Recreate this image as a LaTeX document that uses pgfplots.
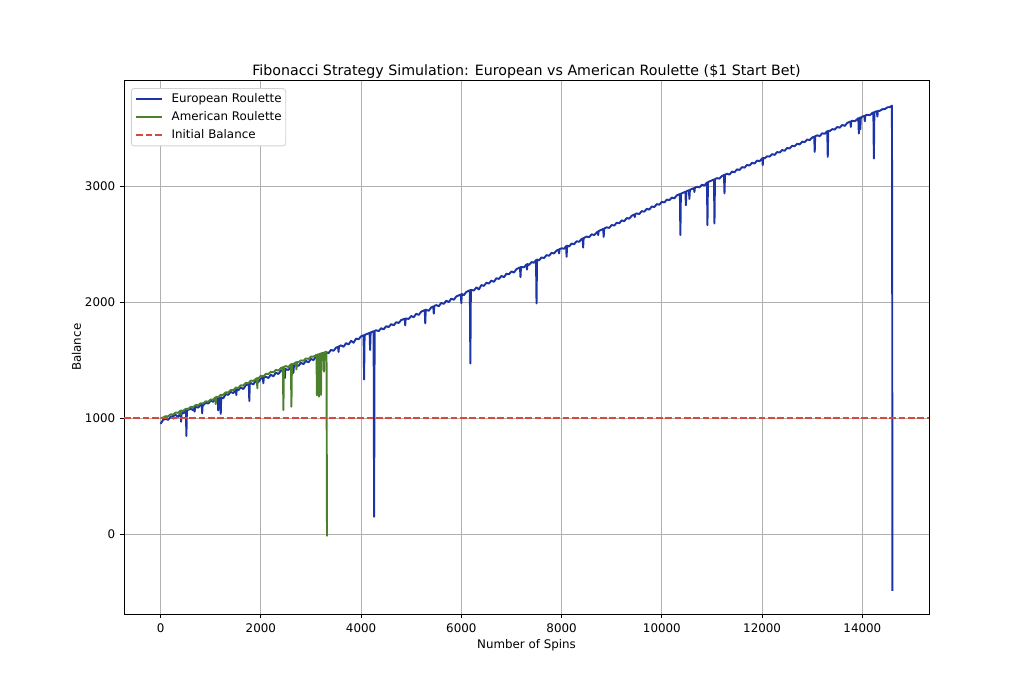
\documentclass[border=0pt]{standalone}
\usepackage{pgfplots}
\pgfplotsset{compat=1.18}
\usepackage{fontspec}
\setmainfont{DejaVu Sans}

\definecolor{euroblue}{RGB}{28,52,165}
\definecolor{amgreen}{RGB}{75,128,45}
\definecolor{initred}{RGB}{214,72,64}
\definecolor{gridgray}{RGB}{176,176,176}

\begin{document}
\begin{tikzpicture}
\path[use as bounding box] (-93bp,-57bp) rectangle (675bp,460.5bp);
\begin{axis}[
  at={(0,0)}, anchor=south west,
  scale only axis,
  width=603.75bp, height=400bp,
  xmin=-730, xmax=15330,
  ymin=-690, ymax=3910,
  xtick={0,2000,4000,6000,8000,10000,12000,14000},
  ytick={0,1000,2000,3000},
  scaled ticks=false,
  /pgf/number format/.cd, assume math mode=true, set thousands separator={}, fixed,
  /pgfplots/.cd,
  tick align=outside,
  xtick pos=bottom, ytick pos=left,
  major tick length=3.1bp,
  every tick/.style={black, line width=0.6bp},
  axis line style={line width=0.6bp},
  grid=major,
  major grid style={gridgray, line width=0.6bp},
  tick label style={font=\fontsize{8.9bp}{10bp}\selectfont},
  xticklabel style={yshift=-0.5bp},
  title={Fibonacci Strategy Simulation: European vs American Roulette (\$1 Start Bet)},
  every axis title/.style={at={(axis description cs:0.5,1)}, anchor=base, yshift=4.1bp, font=\fontsize{10.66bp}{12bp}\selectfont},
  xlabel={Number of Spins},
  every axis x label/.style={at={(axis description cs:0.5,0)}, anchor=base, yshift=-26.25bp, font=\fontsize{8.9bp}{10bp}\selectfont},
  ylabel={Balance},
  every axis y label/.style={at={(axis description cs:0,0.5)}, anchor=base, rotate=90, yshift=32.25bp, font=\fontsize{8.9bp}{10bp}\selectfont},
  legend cell align=left,
  legend image code/.code={\draw[#1] (0bp,0bp) -- (19bp,0bp);},
  legend style={
    at={(axis description cs:0,1)}, anchor=north west,
    xshift=5.25bp, yshift=-5.6bp,
    draw=black!18, fill=white, rounded corners=2bp,
    line width=0.6bp,
    font=\fontsize{8.9bp}{10bp}\selectfont,
    inner xsep=3bp, inner ysep=3.8bp,
    row sep=5.1bp,
    nodes={inner sep=0pt, text height=6.5bp, text depth=1.9bp},
    /tikz/every odd column/.append style={column sep=6.75bp},
  },
]

% European roulette balance
\addplot[euroblue, line width=1.45bp, line join=round] coordinates {
(0,950) (50,984) (100,993) (150,985) (200,1010) (240,1017) (250,995) (260,1020)
(300,1027) (350,1010) (400,1045) (410,968) (420,1048) (450,1040) (505,1063) (515,845)
(525,1067) (550,1071) (600,1080) (650,1068) (670,1092) (680,1055) (690,1096) (700,1097)
(750,1090) (800,1115) (820,1118) (830,1040) (840,1122) (850,1110) (900,1132) (950,1125)
(1000,1150) (1050,1140) (1100,1169) (1140,1167) (1150,1065) (1160,1171) (1190,1176) (1200,1035)
(1210,1180) (1250,1170) (1300,1207) (1350,1200) (1400,1226) (1450,1215) (1505,1246) (1510,1198)
(1520,1249) (1550,1240) (1600,1264) (1650,1250) (1700,1283) (1760,1294) (1770,1147) (1780,1298)
(1800,1302) (1850,1290) (1900,1321) (1950,1310) (2000,1340) (2040,1347) (2050,1300) (2060,1350)
(2100,1357) (2150,1345) (2200,1374) (2250,1360) (2300,1391) (2350,1380) (2400,1408) (2470,1420)
(2480,1345) (2490,1423) (2550,1415) (2600,1442) (2640,1449) (2650,1390) (2660,1452) (2700,1459)
(2750,1450) (2800,1476) (2850,1465) (2900,1493) (2950,1480) (3000,1510) (3050,1500) (3100,1530)
(3150,1525) (3200,1549) (3250,1535) (3300,1568) (3350,1560) (3400,1588) (3450,1580) (3500,1607)
(3540,1615) (3550,1570) (3560,1619) (3600,1627) (3650,1615) (3700,1646) (3750,1635) (3800,1666)
(3850,1650) (3900,1685) (3950,1680) (4000,1705) (4050,1714) (4060,1333) (4070,1717) (4100,1722)
(4170,1735) (4180,1586) (4190,1738) (4250,1749) (4260,149) (4270,1752) (4300,1757) (4350,1750)
(4400,1775) (4450,1765) (4500,1792) (4550,1785) (4600,1810) (4650,1800) (4700,1827) (4750,1820)
(4800,1845) (4870,1857) (4880,1800) (4890,1859) (4950,1855) (5000,1880) (5050,1870) (5100,1899)
(5150,1890) (5200,1918) (5270,1931) (5280,1816) (5290,1935) (5350,1925) (5400,1955) (5440,1963)
(5450,1900) (5460,1967) (5500,1974) (5550,1965) (5600,1993) (5650,1985) (5700,2012) (5750,2000)
(5800,2030) (5850,2020) (5900,2049) (5990,2066) (6000,1990) (6010,2070) (6050,2060) (6100,2088)
(6170,2102) (6180,1471) (6190,2106) (6250,2100) (6300,2127) (6350,2110) (6400,2147) (6450,2140)
(6500,2167) (6550,2160) (6600,2186) (6650,2175) (6700,2206) (6750,2200) (6800,2226) (6850,2215)
(6900,2245) (6950,2240) (7000,2265) (7050,2255) (7100,2285) (7170,2299) (7180,2215) (7190,2303)
(7250,2300) (7300,2325) (7310,2280) (7320,2329) (7350,2320) (7400,2345) (7450,2340) (7490,2363)
(7500,1989) (7510,2367) (7550,2360) (7600,2385) (7650,2380) (7700,2405) (7750,2400) (7800,2425)
(7850,2420) (7900,2445) (7940,2453) (7950,2420) (7960,2457) (8000,2465) (8050,2460) (8090,2483)
(8100,2391) (8110,2487) (8150,2480) (8200,2505) (8250,2500) (8300,2525) (8350,2520) (8400,2545)
(8420,2549) (8430,2470) (8440,2553) (8500,2565) (8550,2560) (8600,2585) (8650,2578) (8720,2609)
(8730,2578) (8740,2613) (8800,2625) (8830,2631) (8840,2563) (8850,2635) (8900,2645) (8950,2640)
(9000,2665) (9050,2660) (9100,2685) (9150,2680) (9200,2705) (9250,2698) (9300,2725) (9350,2720)
(9400,2745) (9450,2755) (9460,2733) (9470,2759) (9500,2765) (9550,2760) (9600,2785) (9650,2780)
(9700,2805) (9750,2798) (9800,2825) (9850,2820) (9900,2845) (9950,2840) (10000,2865) (10050,2860)
(10100,2884) (10150,2880) (10200,2902) (10250,2895) (10300,2921) (10360,2932) (10370,2578) (10380,2935)
(10400,2939) (10470,2952) (10480,2836) (10490,2956) (10500,2958) (10540,2965) (10550,2890) (10560,2969)
(10600,2976) (10640,2983) (10650,2950) (10660,2987) (10700,2995) (10750,2990) (10800,3013) (10850,3005)
(10900,3032) (10910,2664) (10920,3036) (10950,3041) (11000,3050) (11040,3058) (11050,2678) (11060,3061)
(11100,3069) (11150,3065) (11200,3088) (11240,3096) (11250,2937) (11260,3099) (11300,3107) (11350,3100)
(11400,3126) (11450,3120) (11500,3145) (11550,3140) (11600,3164) (11650,3160) (11700,3183) (11750,3178)
(11800,3202) (11850,3195) (11900,3221) (11950,3215) (12005,3241) (12013,3181) (12021,3244) (12050,3240)
(12100,3258) (12150,3255) (12200,3276) (12250,3270) (12300,3294) (12350,3290) (12400,3312) (12450,3305)
(12500,3330) (12550,3325) (12600,3348) (12650,3345) (12700,3366) (12750,3360) (12800,3384) (12850,3380)
(12900,3402) (12950,3398) (13000,3420) (13040,3427) (13050,3296) (13060,3431) (13100,3438) (13150,3432)
(13200,3456) (13250,3452) (13300,3474) (13310,3253) (13320,3478) (13350,3475) (13400,3492) (13450,3488)
(13500,3510) (13550,3505) (13600,3528) (13650,3520) (13700,3546) (13760,3557) (13770,3511) (13780,3560)
(13800,3564) (13850,3560) (13920,3586) (13930,3454) (13940,3589) (13950,3591) (13960,3490) (13970,3593)
(14000,3600) (14040,3606) (14050,3560) (14060,3610) (14100,3616) (14150,3612) (14200,3632) (14220,3635)
(14230,3239) (14240,3639) (14290,3647) (14300,3600) (14310,3650) (14350,3650) (14400,3664) (14450,3665)
(14500,3680) (14550,3682) (14590,3695) (14595,2700) (14600,-490)
};
\addlegendentry{European Roulette}

% American roulette balance
\addplot[amgreen, line width=1.45bp, line join=round] coordinates {
(0,1000) (50,1004) (100,1016) (150,1015) (200,1032) (250,1030) (300,1048) (350,1045)
(390,1062) (400,1030) (410,1066) (450,1060) (500,1080) (550,1078) (600,1096) (650,1095)
(700,1112) (750,1110) (800,1128) (850,1126) (900,1144) (950,1142) (1000,1160) (1050,1160)
(1090,1178) (1100,1120) (1110,1183) (1150,1180) (1200,1201) (1250,1200) (1300,1222) (1350,1220)
(1400,1242) (1450,1240) (1500,1263) (1550,1260) (1600,1283) (1650,1280) (1700,1304) (1750,1300)
(1800,1324) (1850,1320) (1920,1344) (1930,1257) (1940,1346) (1950,1340) (2000,1365) (2050,1360)
(2100,1382) (2150,1380) (2200,1398) (2250,1395) (2300,1415) (2350,1410) (2400,1431) (2440,1438)
(2450,1069) (2460,1441) (2500,1448) (2550,1440) (2600,1464) (2610,1098) (2620,1467) (2650,1465)
(2700,1481) (2710,1420) (2720,1484) (2750,1482) (2800,1497) (2850,1495) (2900,1514) (2950,1510)
(3000,1530) (3050,1530) (3110,1545) (3120,1195) (3130,1548) (3150,1550) (3160,1184) (3170,1553)
(3190,1556) (3200,1200) (3210,1558) (3250,1564) (3260,1400) (3270,1566) (3310,1572) (3320,-20)
};
\addlegendentry{American Roulette}

% starting balance reference
\addplot[initred, line width=1.33bp, dash pattern=on 4.9bp off 2.1bp] coordinates {(-730,1000) (15330,1000)};
\addlegendentry{Initial Balance}

\end{axis}
\end{tikzpicture}
\end{document}
